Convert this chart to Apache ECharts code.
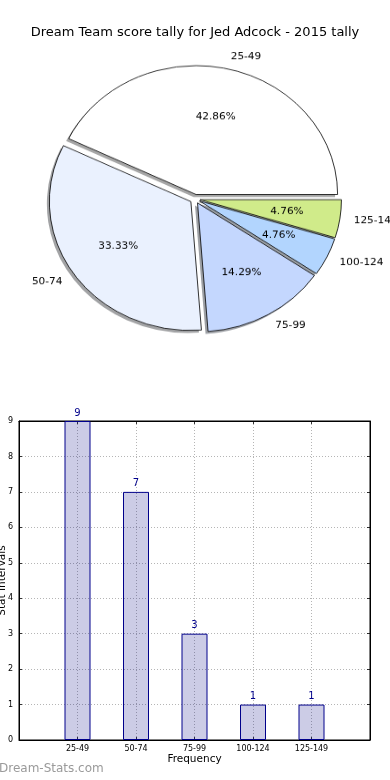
<!DOCTYPE html>
<html><head><meta charset="utf-8">
<script src="https://cdn.jsdelivr.net/npm/echarts@6/dist/echarts.min.js"></script>
<style>
html,body{margin:0;padding:0;background:#fff;}
#main{position:absolute;left:0;top:0;width:390px;height:780px;}
#pie{position:absolute;left:0;top:0;width:390px;height:420px;transform:scaleY(0.911);transform-origin:0 0;}
</style></head>
<body>
<div id="main"></div>
<div id="pie"></div>
<script>
var titleText = 'Dream Team score tally for Jed Adcock - 2015 tally';
var categories = ['25-49', '50-74', '75-99', '100-124', '125-149'];
var values = [9, 7, 3, 1, 1];
var sliceColors = ['#ffffff', '#eaf1fe', '#c4d7fe', '#b2d5fe', '#d0eb8a'];
var yTicks = [0, 1, 2, 3, 4, 5, 6, 7, 8, 9];
var yAxisName = 'Stat Intervals';
var xAxisName = 'Frequency';
var watermark = 'Dream-Stats.com';

var FONT = 'DejaVu Sans';
var R = 141.5;
var CENTER = [195, 218.4];
var SHADOW_CENTER = [192.5, 221.1];

function shadowOf(hex) {
  var n = parseInt(hex.slice(1), 16);
  var r = Math.round(((n >> 16) & 255) * 0.3), g = Math.round(((n >> 8) & 255) * 0.3), b = Math.round((n & 255) * 0.3);
  return 'rgba(' + r + ',' + g + ',' + b + ',0.5)';
}

var pie = echarts.init(document.getElementById('pie'), null, {renderer: 'canvas'});
var pieData = categories.map(function (c, i) {
  return {name: c, value: values[i], selected: true,
    itemStyle: {color: sliceColors[i]},
    select: {itemStyle: {color: sliceColors[i]}}};
});
var shadowData = categories.map(function (c, i) {
  return {name: c, value: values[i], selected: true,
    itemStyle: {color: shadowOf(sliceColors[i])},
    select: {itemStyle: {color: shadowOf(sliceColors[i])}}};
});
var pieLabelData = categories.map(function (c, i) {
  return {name: c, value: values[i], selected: true};
});
var common = {type: 'pie', startAngle: 0, clockwise: false, selectedMode: 'multiple', selectedOffset: 5,
  avoidLabelOverlap: false, emphasis: {disabled: true}};
pie.setOption({
  animation: false,
  series: [Object.assign({}, common, {
    center: SHADOW_CENTER,
    radius: [0, R],
    silent: true,
    itemStyle: {borderWidth: 0},
    select: {itemStyle: {borderWidth: 0}},
    label: {show: false},
    labelLine: {show: false},
    data: shadowData
  }), Object.assign({}, common, {
    center: CENTER,
    radius: [0, R],
    itemStyle: {borderColor: '#000', borderWidth: 0.8},
    select: {itemStyle: {borderColor: '#000', borderWidth: 0.8}},
    label: {show: true, position: 'outside', fontFamily: FONT, fontSize: 10.5, color: '#000',
      distanceToLabelLine: 0, formatter: '{b}'},
    labelLine: {show: false, length: 14, length2: 0},
    data: pieData
  }), Object.assign({}, common, {
    center: CENTER,
    radius: [0, R * 1.2],
    silent: true,
    itemStyle: {color: 'rgba(0,0,0,0)', borderWidth: 0},
    select: {itemStyle: {color: 'rgba(0,0,0,0)', borderWidth: 0}},
    label: {show: true, position: 'inside', fontFamily: FONT, fontSize: 10.5, color: '#000',
      formatter: '{d}%'},
    labelLine: {show: false},
    data: pieLabelData
  })]
});

var main = echarts.init(document.getElementById('main'), null, {renderer: 'canvas'});
var barData = categories.map(function (c, i) { return [i, values[i]]; });
var catLabel = function (v) {
  var i = Math.round(v);
  return (i >= 0 && i < categories.length) ? categories[i] : '';
};
var axisLineStyle = {show: true, onZero: false, lineStyle: {color: '#000', width: 1}};
var tickStyle = {show: true, inside: true, length: 3, lineStyle: {color: '#000', width: 0.8}};
var gridLine = {show: true, lineStyle: {color: '#b5b5b5', width: 1, type: [1, 2]}};
main.setOption({
  animation: false,
  textStyle: {fontFamily: FONT},
  title: {text: titleText, left: 'center', top: 21,
    textStyle: {fontFamily: FONT, fontSize: 13, fontWeight: 'normal', color: '#000'}},
  graphic: [{type: 'text', left: -1, top: 763,
    style: {text: watermark, fontFamily: FONT, fontSize: 12, fill: '#9a9a9a', fontWeight: 'normal'}},
    {type: 'text', rotation: Math.PI / 2, x: -3, y: 580.5,
     style: {text: yAxisName, fontFamily: FONT, fontSize: 10.5, fill: '#000', align: 'center', verticalAlign: 'top'}}],
  grid: {left: 19, right: 20, top: 421, bottom: 40, show: true, borderColor: '#000', borderWidth: 1,
    containLabel: false, outerBoundsMode: 'none'},
  xAxis: [{
    type: 'value', min: -1, max: categories.length, interval: 1, position: 'bottom',
    name: xAxisName, nameLocation: 'middle', nameGap: 14,
    nameTextStyle: {fontFamily: FONT, fontSize: 10.5, color: '#000'},
    axisLine: axisLineStyle, axisTick: tickStyle, splitLine: gridLine,
    axisLabel: {fontFamily: FONT, fontSize: 8, color: '#000', margin: 5, formatter: catLabel}
  }, {
    type: 'value', min: -1, max: categories.length, interval: 1, position: 'top',
    axisLine: axisLineStyle, axisTick: tickStyle, splitLine: {show: false}, axisLabel: {show: false}
  }],
  yAxis: [{
    type: 'value', min: yTicks[0], max: yTicks[yTicks.length - 1], interval: 1, position: 'left',
    axisLine: axisLineStyle, axisTick: tickStyle, splitLine: gridLine,
    axisLabel: {fontFamily: FONT, fontSize: 8, color: '#000', margin: 6}
  }, {
    type: 'value', min: yTicks[0], max: yTicks[yTicks.length - 1], interval: 1, position: 'right',
    axisLine: axisLineStyle, axisTick: tickStyle, splitLine: {show: false}, axisLabel: {show: false}
  }],
  series: [{
    type: 'bar', xAxisIndex: 0, yAxisIndex: 0,
    barWidth: 26,
    data: barData,
    itemStyle: {color: 'rgba(0,0,128,0.2)', borderColor: '#00008b', borderWidth: 1},
    label: {show: true, position: 'top', distance: 3, fontFamily: FONT, fontSize: 10,
      color: '#00008b', formatter: function (p) { return p.value[1]; }},
    emphasis: {disabled: true}
  }]
});
</script>
</body></html>
